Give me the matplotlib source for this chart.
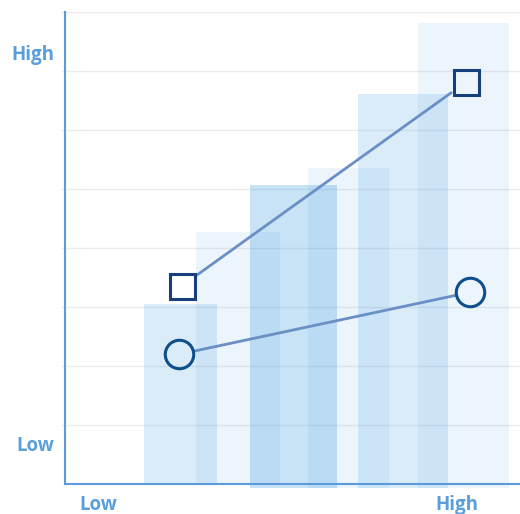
import matplotlib.pyplot as plt

# bars: left edge, width, height, alpha
bar_left = [17.4, 28.8, 40.7, 53.4, 64.4, 77.6]
bar_width = [16.0, 18.5, 19.1, 17.8, 19.8, 20.0]
bar_height = [3.05, 4.27, 5.07, 5.36, 6.61, 7.81]
bar_bottom = [0.0, 0.0, -0.06, -0.06, -0.06, -0.06]
bar_alpha = [0.2, 0.1, 0.3, 0.1, 0.2, 0.1]

# two series, start and end points
sq_x = [25.7, 88.1]
sq_y = [3.36, 6.81]
ci_x = [25.1, 89.0]
ci_y = [2.20, 3.25]

x_ticks = [7.25, 86.2]
x_labels = ['Low', 'High']
y_ticks = [0.69, 7.32]
y_labels = ['Low', 'High']

bar_color = (75/255, 160/255, 228/255)
line_color = '#6a8fc5'
sq_color = '#163f7c'
ci_color = '#0d4f8b'
axis_color = '#5b9bd9'
label_color = '#5a9fdc'
grid_color = '#ebebeb'

label_font = dict(family='Open Sans', weight='bold', size=13.5, color=label_color)

fig = plt.figure(figsize=(5.2, 5.14), dpi=100)
ax = fig.add_axes([65/520, 24/514, 455/520, 478/514])

# spines first: set_position resets the ticks
for s in ['top', 'right']:
    ax.spines[s].set_visible(False)
ax.spines['bottom'].set_position(('data', 0))
ax.spines['bottom'].set_color(axis_color)
ax.spines['left'].set_color(axis_color)
ax.spines['bottom'].set_linewidth(1.5)
ax.spines['left'].set_linewidth(1.5)

for l, w, h, b, a in zip(bar_left, bar_width, bar_height, bar_bottom, bar_alpha):
    ax.bar(l, h - b, width=w, bottom=b, align='edge', color=bar_color,
           alpha=a, linewidth=0, zorder=2)

# connecting lines stop at the marker edges
ax.annotate('', xy=(sq_x[1], sq_y[1]), xytext=(sq_x[0], sq_y[0]),
            arrowprops=dict(arrowstyle='-', color=line_color, lw=2.0,
                            shrinkA=12, shrinkB=13), zorder=3)
ax.annotate('', xy=(ci_x[1], ci_y[1]), xytext=(ci_x[0], ci_y[0]),
            arrowprops=dict(arrowstyle='-', color=line_color, lw=2.0,
                            shrinkA=11, shrinkB=11), zorder=3)

ax.plot(sq_x, sq_y, linestyle='none', marker='s', markersize=18,
        markerfacecolor='none', markeredgecolor=sq_color, markeredgewidth=2.2,
        zorder=4)
ax.plot(ci_x, ci_y, linestyle='none', marker='o', markersize=20.5,
        markerfacecolor='none', markeredgecolor=ci_color, markeredgewidth=2.2,
        zorder=4)

ax.set_xlim(0, 100)
ax.set_ylim(-0.1, 8)
ax.spines['left'].set_bounds(0, 8)

# grid on integer y values
ax.set_yticks(range(1, 9))
ax.set_yticklabels([])
ax.tick_params(axis='y', which='major', length=3, color=grid_color, width=1.0)
ax.grid(axis='y', color=grid_color, linewidth=1.0, zorder=1)
ax.set_axisbelow(True)

ax.set_yticks(y_ticks, minor=True)
ax.set_yticklabels(y_labels, minor=True, fontdict=label_font)
ax.set_xticks(x_ticks)
ax.set_xticklabels(x_labels, fontdict=label_font)
ax.tick_params(axis='y', which='minor', length=0, pad=8)
ax.tick_params(axis='x', length=0, pad=8)

fig.savefig('out.png', dpi=100)
